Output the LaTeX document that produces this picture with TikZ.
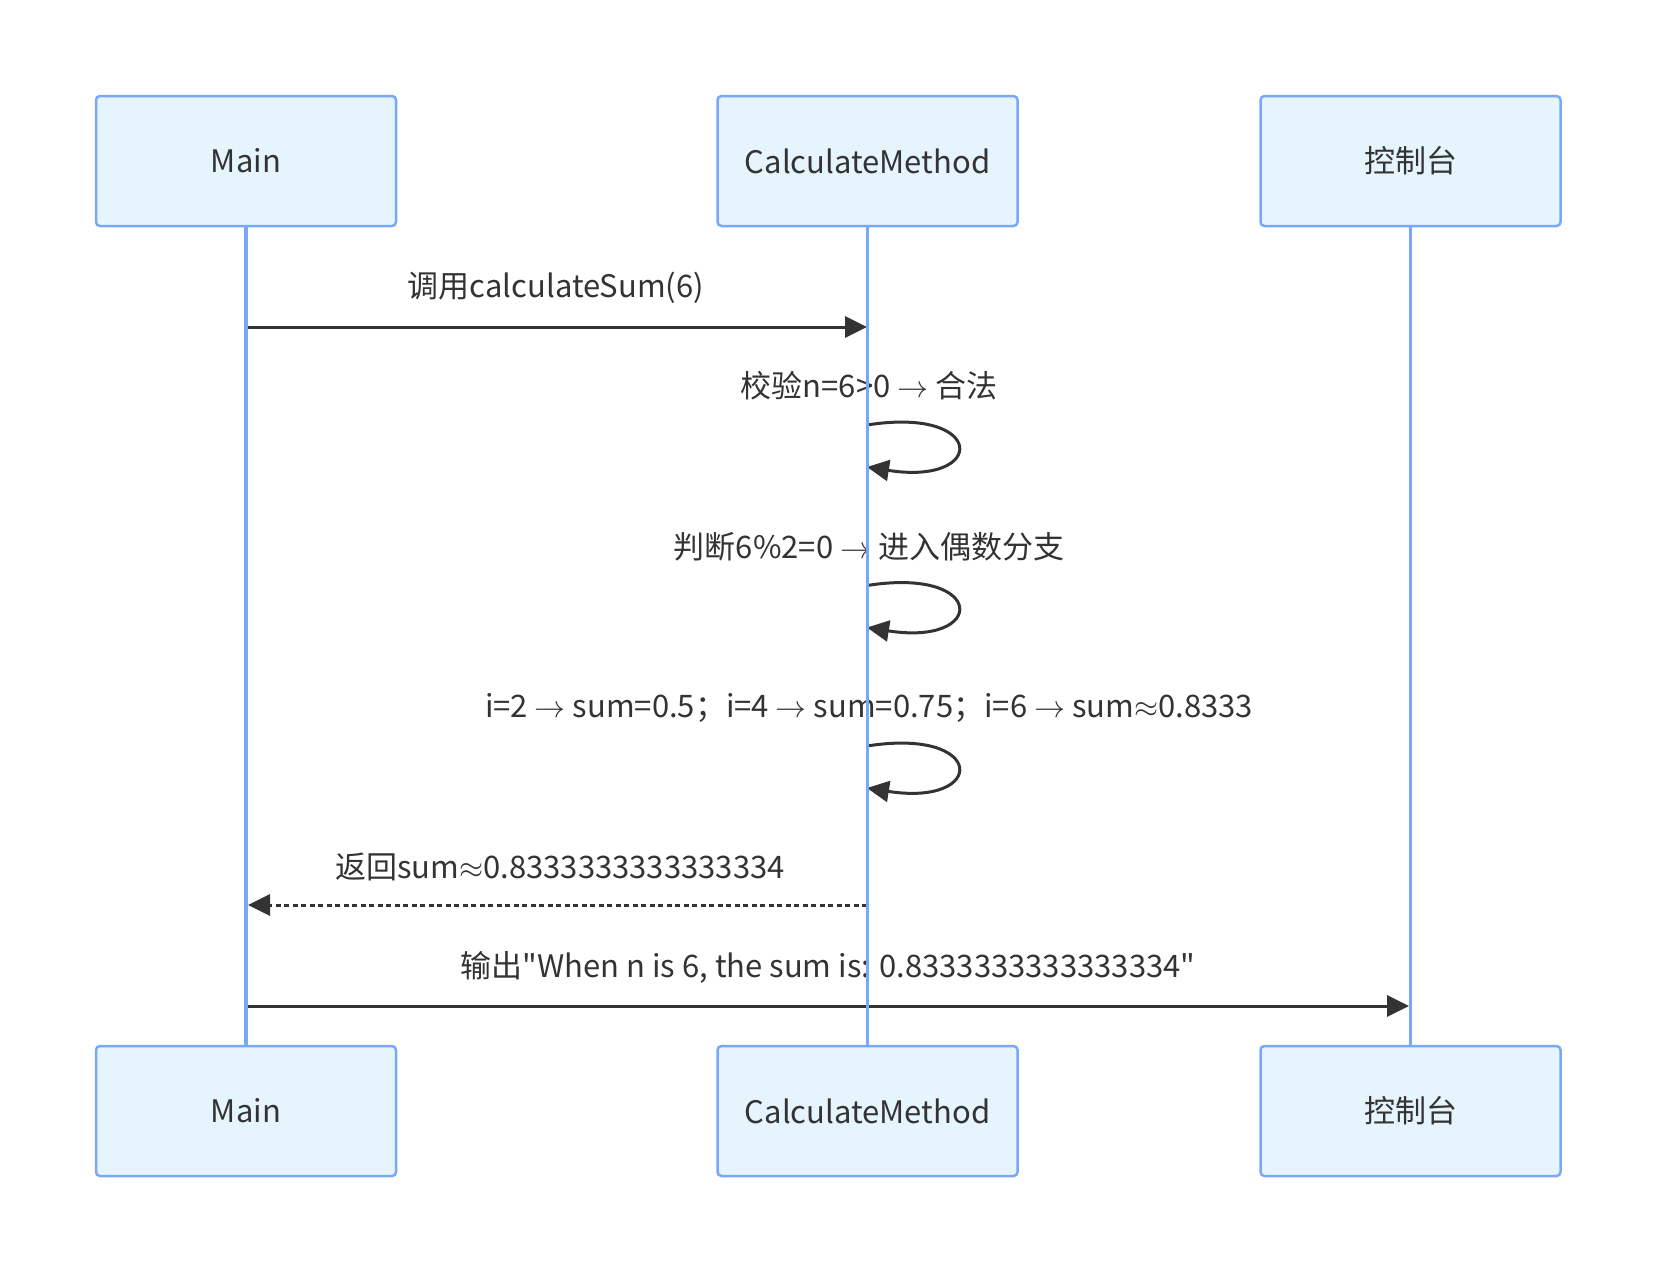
\RequirePackage{fix-cm}
\documentclass[tikz,border=0pt]{standalone}
\usepackage{fontspec}
\setmainfont{Noto Sans CJK SC}[Ligatures=TeXOff]
\usetikzlibrary{arrows.meta}

\definecolor{actorfill}{HTML}{E6F5FD}
\definecolor{actorline}{HTML}{7AA8F8}
\definecolor{msgline}{HTML}{333333}

\tikzset{
  actor/.style={draw=actorline, fill=actorfill, line width=2.5pt, rounded corners=4pt,
    minimum width=300pt, minimum height=130pt, text=msgline,
    font=\fontsize{31}{37}\selectfont},
  lifeline/.style={draw=actorline, line width=3.5pt},
  msg/.style={draw=msgline, line width=3pt, -{Triangle[length=22pt,width=21pt]}},
  msglabel/.style={text=msgline, inner sep=0pt, font=\fontsize{31}{37}\selectfont}
}

\begin{document}
\begin{tikzpicture}[x=1pt, y=-1pt]
    \useasboundingbox (0,0) rectangle (1657,1272);
    % actors, top and bottom
    \node [actor] (mainT) at (246,161) {Main};
    \node [actor] (calcT) at (867.5,161) {CalculateMethod};
    \node [actor] (consT) at (1410.5,161) {控制台};
    \node [actor] (mainB) at (246,1111) {Main};
    \node [actor] (calcB) at (867.5,1111) {CalculateMethod};
    \node [actor] (consB) at (1410.5,1111) {控制台};

    % message end points on the lifelines
    \coordinate (callA) at (246,327);
    \coordinate (callB) at (867,327);
    \coordinate (retA) at (867,905);
    \coordinate (retB) at (248,905);
    \coordinate (outA) at (246,1006);
    \coordinate (outB) at (1409,1006);

    % labels
    \node [msglabel] (callL) at (556,288) {调用calculateSum(6)};
    \node [msglabel] (chk) at (869,386) {校验n=6>0 $\to$ 合法};
    \node [msglabel] (even) at (869,547) {判断6\%2=0 $\to$ 进入偶数分支};
    \node [msglabel] (loop) at (869,708) {i=2 $\to$ sum=0.5；i=4 $\to$ sum=0.75；i=6 $\to$ sum$\approx$0.8333};
    \node [msglabel] (retL) at (560,867) {返回sum$\approx$0.8333333333333334};
    \node [msglabel] (outL) at (828,967) {输出"When n is 6, the sum is: 0.8333333333333334"};

    % messages
    \draw [msg] (callA) -- (callB);
    \foreach \y [count=\i] in {425,585.5,746} {
      \coordinate (self\i a) at (867,\y);
      \coordinate (self\i b) at (867,\y+42);
      \draw [msg] (self\i a) .. controls +(120,-19) and +(120,19) .. (self\i b);
    }
    \draw [msg, dash pattern=on 5pt off 3.5pt] (retA) -- (retB);
    \draw [msg] (outA) -- (outB);

    % lifelines on top
    \draw [lifeline] (mainT) -- (mainB);
    \draw [lifeline] (calcT) -- (calcB);
    \draw [lifeline] (consT) -- (consB);
  \end{tikzpicture}
\end{document}
